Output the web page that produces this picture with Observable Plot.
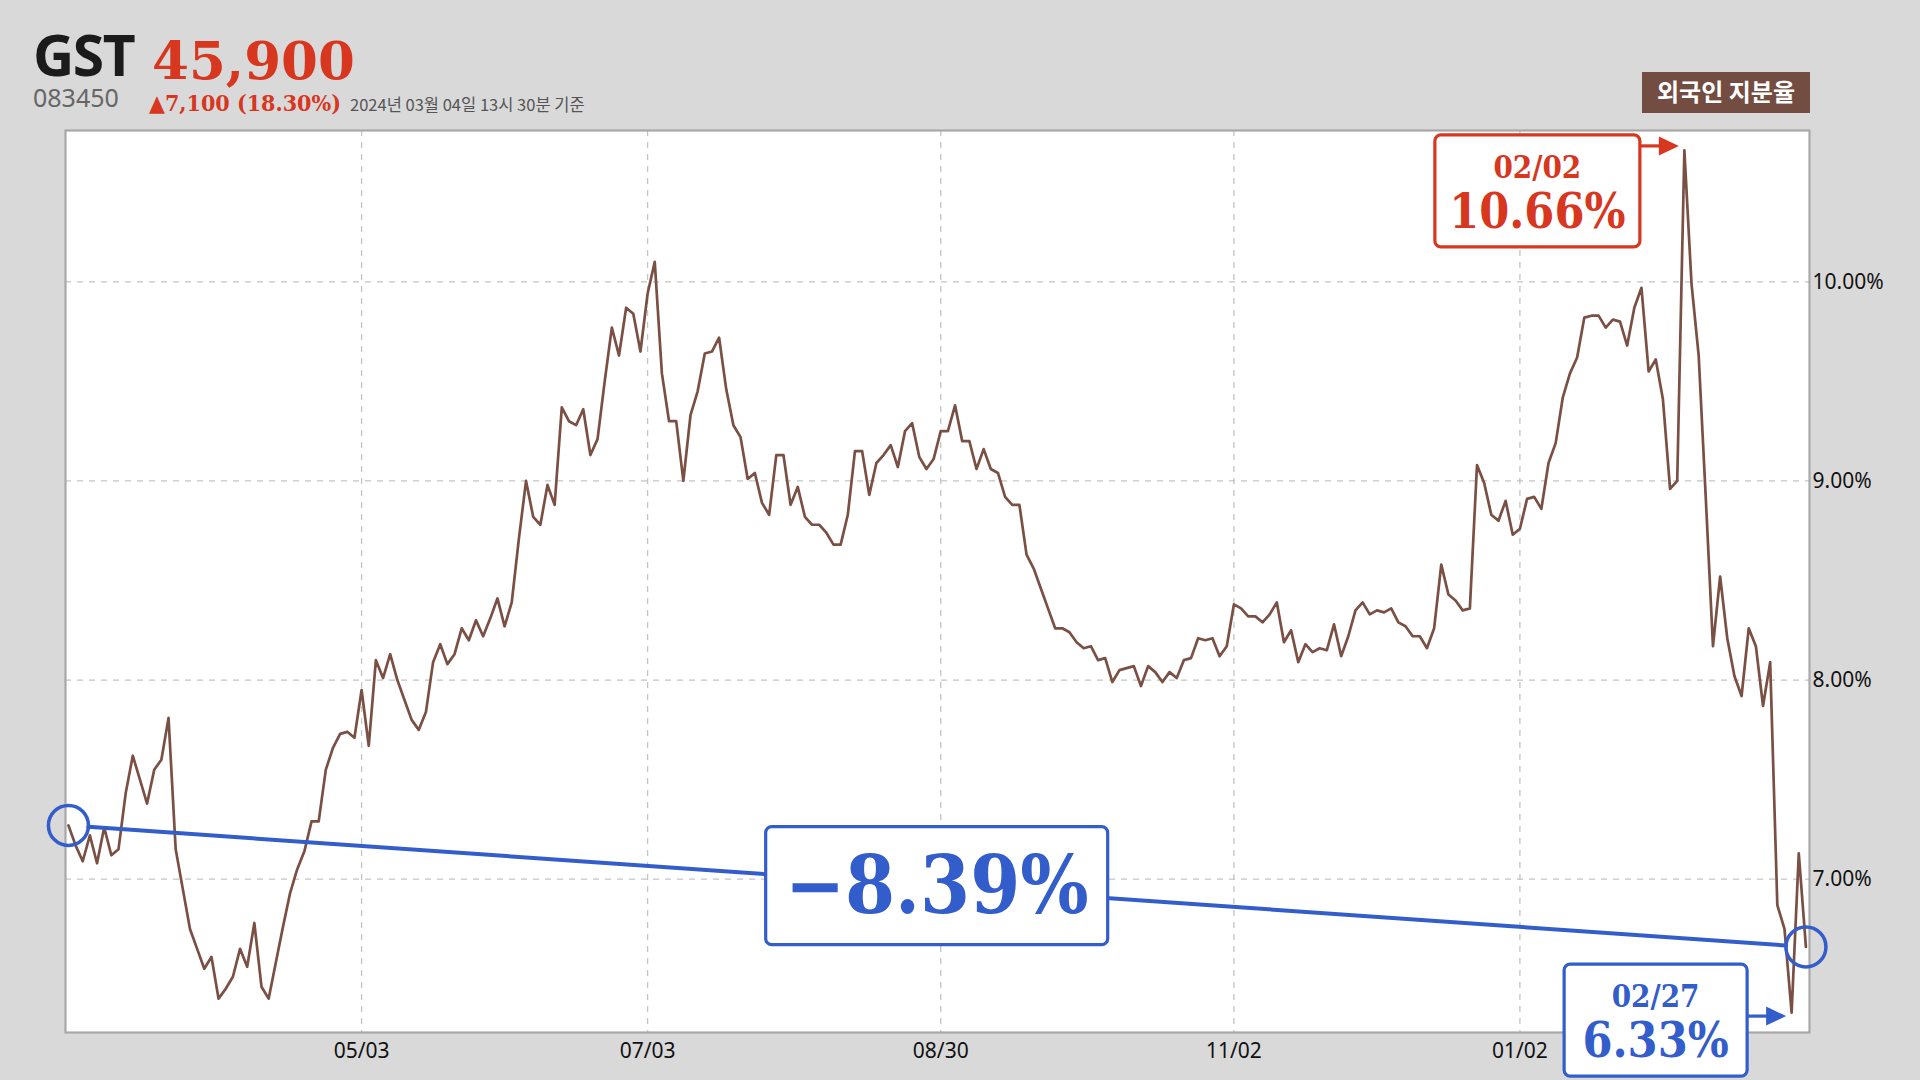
<!DOCTYPE html>
<html><head><meta charset="utf-8">
<script src="https://cdn.jsdelivr.net/npm/d3@7"></script>
<script src="https://cdn.jsdelivr.net/npm/@observablehq/plot@0.6"></script>
<style>
html,body{margin:0;padding:0;background:#d9d9d9;}
#page{position:relative;width:1920px;height:1080px;overflow:hidden;background:#d9d9d9;}
#header{position:absolute;left:0;top:0;}
#chart{position:absolute;left:0;top:120px;}
</style></head><body><div id="page">
<svg id="header" width="1920" height="120"></svg>
<div id="chart"></div>
</div>
<script>
// ---------------- data ----------------
const ticker = "GST";
const code = "083450";
const price = "45,900";
const priceChange = "▲7,100 (18.30%)";
const asOf = "2024년 03월 04일 13시 30분 기준";
const seriesName = "외국인 지분율";

// Korean trading calendar (KRX holidays inside the window)
const startDate = "2023-03-06";
const endDate = "2024-02-29";
const holidays = ["2023-05-01","2023-05-05","2023-05-29","2023-06-06","2023-08-15","2023-09-28","2023-09-29",
  "2023-10-02","2023-10-03","2023-10-09","2023-12-25","2023-12-29","2024-01-01","2024-02-09","2024-02-12"];
const tickLabels = ["05/03","07/03","08/30","11/02","01/02"];
const yTicks = [7, 8, 9, 10];

// foreign ownership ratio (%), one value per trading day
const values = [
  7.27,7.17,7.09,7.22,7.08,7.26,7.12,7.15,7.43,7.62,
  7.50,7.38,7.55,7.60,7.81,7.15,6.95,6.75,6.65,6.55,
  6.61,6.40,6.45,6.51,6.65,6.56,6.78,6.46,6.40,6.58,
  6.76,6.93,7.05,7.14,7.29,7.29,7.55,7.66,7.73,7.74,
  7.71,7.95,7.67,8.10,8.01,8.13,8.00,7.90,7.80,7.75,
  7.84,8.09,8.18,8.08,8.13,8.26,8.20,8.30,8.22,8.31,
  8.41,8.27,8.39,8.71,9.00,8.82,8.78,8.98,8.88,9.37,
  9.30,9.28,9.36,9.13,9.21,9.50,9.77,9.63,9.87,9.84,
  9.65,9.94,10.10,9.54,9.30,9.30,9.00,9.33,9.45,9.64,
  9.65,9.72,9.46,9.28,9.22,9.01,9.04,8.89,8.83,9.13,
  9.13,8.88,8.97,8.82,8.78,8.78,8.74,8.68,8.68,8.83,
  9.15,9.15,8.93,9.09,9.13,9.18,9.07,9.25,9.29,9.12,
  9.06,9.11,9.25,9.25,9.38,9.20,9.20,9.06,9.16,9.06,
  9.04,8.92,8.88,8.88,8.63,8.56,8.46,8.36,8.26,8.26,
  8.24,8.19,8.16,8.17,8.10,8.11,7.99,8.05,8.06,8.07,
  7.97,8.07,8.04,7.99,8.04,8.01,8.10,8.11,8.21,8.20,
  8.21,8.12,8.17,8.38,8.36,8.32,8.32,8.29,8.33,8.39,
  8.19,8.25,8.09,8.18,8.14,8.16,8.15,8.28,8.12,8.22,
  8.35,8.39,8.33,8.35,8.34,8.36,8.29,8.27,8.22,8.22,
  8.16,8.26,8.58,8.43,8.40,8.35,8.36,9.08,8.99,8.83,
  8.80,8.90,8.73,8.76,8.91,8.92,8.86,9.09,9.19,9.42,
  9.54,9.62,9.82,9.83,9.83,9.77,9.81,9.80,9.68,9.87,
  9.97,9.55,9.61,9.41,8.96,9.00,10.66,9.99,9.63,8.91,
  8.17,8.52,8.21,8.02,7.92,8.26,8.17,7.87,8.09,6.87,
  6.75,6.33,7.13,6.66
];

// ---------------- colours ----------------
const brown = "#7a4f44";
const legendBg = "#744d42";
const red = "#d7361f";
const blue = "#325dca";
const serif = "'DejaVu Serif Condensed','DejaVu Serif',serif";
const serifWide = "'DejaVu Serif',serif";

// ---------------- build ----------------
const ymd = d3.utcFormat("%Y-%m-%d");
const md = d3.utcFormat("%m/%d");
const hol = new Set(holidays);
const dates = d3.utcDay.range(new Date(startDate), d3.utcDay.offset(new Date(endDate), 1))
  .filter(d => d.getUTCDay() % 6 !== 0 && !hol.has(ymd(d)));
const data = values.map((v, i) => ({i, v, label: dates[i] ? md(dates[i]) : ""}));
const tickIdx = tickLabels.map(l => data.findIndex(d => d.label === l)).filter(i => i >= 0);

const first = data[0], last = data[data.length - 1];
const peak = data[d3.maxIndex(data, d => d.v)];
const low = data[d3.minIndex(data, d => d.v)];
const change = (last.v / first.v - 1) * 100;
const mid = {i: (first.i + last.i) / 2, v: (first.v + last.v) / 2};

// header
const H = d3.select("#header");
H.append("text").attr("x", 33).attr("y", 76).attr("font-family", "'Noto Sans',sans-serif").attr("font-weight", 700)
  .attr("font-size", 57).attr("letter-spacing", -1.5).attr("fill", "#1b1b1b").text(ticker);
H.append("text").attr("x", 152).attr("y", 79).attr("font-family", serifWide).attr("font-weight", 700)
  .attr("font-size", 53).attr("fill", red).text(price);
H.append("text").attr("x", 33).attr("y", 107).attr("font-family", "'Noto Sans',sans-serif")
  .attr("font-size", 25).attr("fill", "#666").text(code);
H.append("text").attr("x", 149).attr("y", 111).attr("font-family", serif).attr("font-weight", 700)
  .attr("font-size", 23).attr("fill", red).text(priceChange);
H.append("text").attr("x", 350).attr("y", 111).attr("font-family", "'Noto Sans CJK KR',sans-serif")
  .attr("font-size", 16.5).attr("fill", "#555").text(asOf);
H.append("rect").attr("x", 1642).attr("y", 72).attr("width", 168).attr("height", 41).attr("fill", legendBg);
H.append("text").attr("x", 1726).attr("y", 101).attr("text-anchor", "middle").attr("font-family", "'Noto Sans CJK KR',sans-serif")
  .attr("font-weight", 700).attr("font-size", 24).attr("fill", "white").text(seriesName);

// annotation boxes drawn with the plot's own scales
function boxLabel(g, {cx, cy, w, h, color, lines}) {
  g.append("rect").attr("x", cx - w / 2).attr("y", cy - h / 2).attr("width", w).attr("height", h)
    .attr("rx", 6).attr("fill", "white").attr("stroke", color).attr("stroke-width", 3.2);
  for (const L of lines) {
    g.append("text").attr("x", cx).attr("y", cy + L.dy).attr("text-anchor", "middle")
      .attr("font-family", serif).attr("font-weight", 700).attr("font-size", L.size)
      .attr("fill", color).text(L.text);
  }
}
function pointer(g, {x1, x2, y, color}) {
  g.append("line").attr("x1", x1).attr("x2", x2 - 18).attr("y1", y).attr("y2", y)
    .attr("stroke", color).attr("stroke-width", 3.2);
  g.append("path").attr("d", `M${x2},${y}L${x2 - 20},${y - 9.5}L${x2 - 20},${y + 9.5}Z`).attr("fill", color);
}
function annotations(index, scales) {
  const X = scales.x, Y = scales.y;
  const g = d3.create("svg:g");
  // change box on the connecting line
  boxLabel(g, {cx: X(mid.i), cy: Y(mid.v), w: 342, h: 118, color: blue,
    lines: [{text: "−" + Math.abs(change).toFixed(2) + "%", size: 80, dy: 27}]});
  // peak box
  const px = X(peak.i), py = Y(peak.v);
  boxLabel(g, {cx: px - 146.5, cy: py + 41, w: 205, h: 112, color: red,
    lines: [{text: peak.label, size: 31, dy: -13}, {text: peak.v.toFixed(2) + "%", size: 48, dy: 37}]});
  pointer(g, {x1: px - 44, x2: px - 5, y: py - 4, color: red});
  // low box
  const lx = X(low.i), ly = Y(low.v);
  boxLabel(g, {cx: lx - 135.5, cy: ly + 8, w: 183, h: 112, color: blue,
    lines: [{text: low.label, size: 31, dy: -13}, {text: low.v.toFixed(2) + "%", size: 48, dy: 37}]});
  pointer(g, {x1: lx - 44, x2: lx - 5, y: ly + 4, color: blue});
  return g.node();
}

const chart = Plot.plot({
  width: 1920, height: 960,
  marginTop: 10, marginBottom: 48, marginLeft: 65, marginRight: 111,
  style: {background: "transparent", fontFamily: "'Noto Sans',sans-serif", fontSize: "21px", color: "#000", overflow: "visible"},
  x: {domain: [-0.41, last.i + 0.5], label: null},
  y: {domain: [d3.min(values) - 0.1, d3.max(values) + 0.1], label: null},
  marks: [
    Plot.frame({fill: "white"}),
    Plot.gridX(tickIdx, {stroke: "#c4c4c4", strokeOpacity: 1, strokeWidth: 1.3, strokeDasharray: "6,6"}),
    Plot.gridY(yTicks, {stroke: "#c4c4c4", strokeOpacity: 1, strokeWidth: 1.3, strokeDasharray: "6,6"}),
    Plot.axisX(tickIdx, {tickSize: 0, tickPadding: 11, tickFormat: i => data[i].label, fontSize: 21, fill: "#111", label: null}),
    Plot.axisY(yTicks, {anchor: "right", tickSize: 0, tickPadding: 3, tickFormat: d => d.toFixed(2) + "%", fontSize: 21, fill: "#111", label: null}),
    Plot.line(data, {x: "i", y: "v", stroke: brown, strokeWidth: 2.7}),
    Plot.frame({stroke: "#a8a8a8", strokeWidth: 2.2}),
    Plot.arrow([{x1: first.i, y1: first.v, x2: last.i, y2: last.v}],
      {x1: "x1", y1: "y1", x2: "x2", y2: "y2", stroke: blue, strokeWidth: 4, headLength: 0, insetStart: 20, insetEnd: 20}),
    Plot.dot([first, last], {x: "i", y: "v", r: 20, stroke: blue, strokeWidth: 3.5, fill: "none"}),
    annotations
  ]
});
document.getElementById("chart").appendChild(chart);
</script>
</body></html>
